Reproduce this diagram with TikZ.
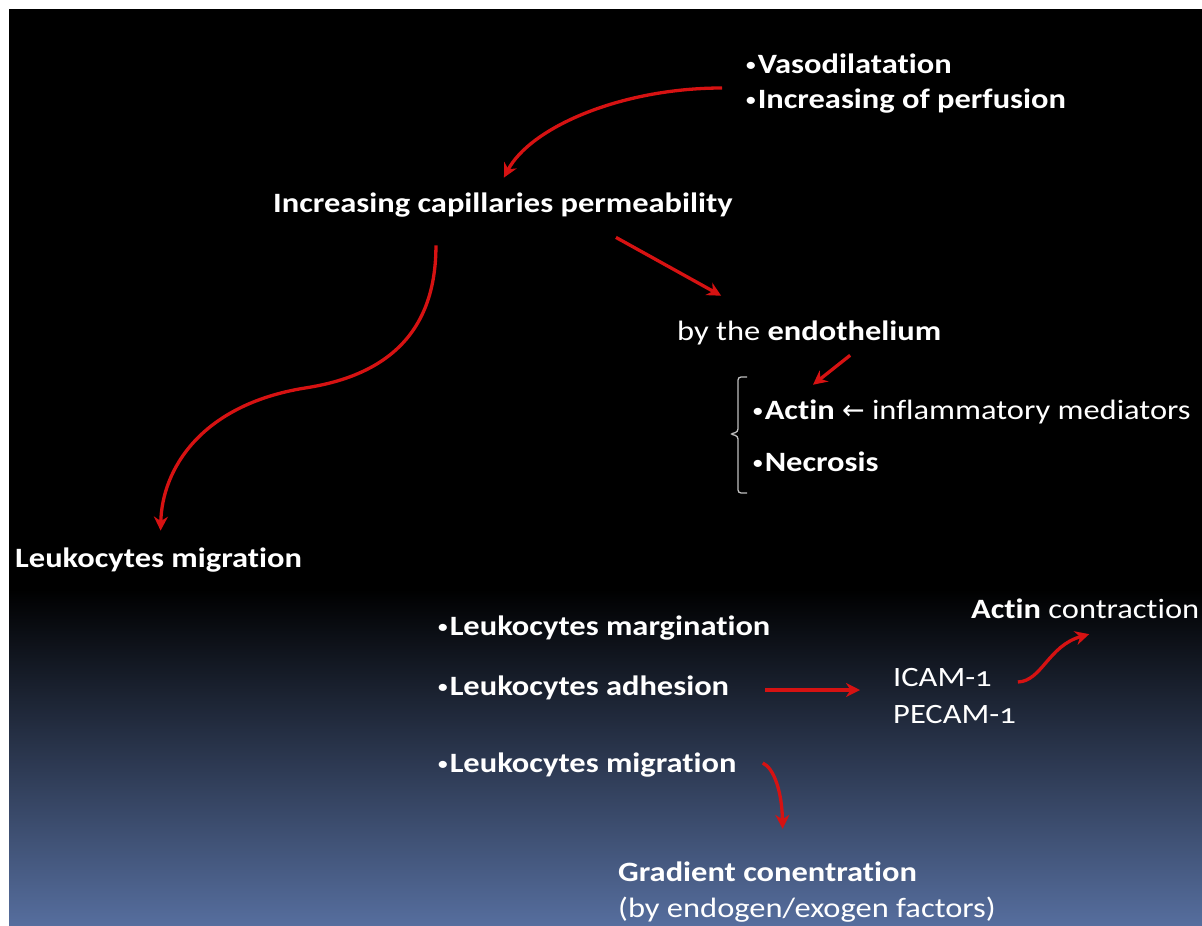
\documentclass[tikz,border=0pt]{standalone}
\usepackage{fontspec}
\setmainfont{Carlito}[Numbers=OldStyle, FakeStretch=1.16, Ligatures=NoCommon]
\newfontfamily\arrowfont{DejaVu Sans}
\usetikzlibrary{calc,arrows.meta}
\definecolor{arrowred}{RGB}{214,18,18}
\definecolor{slateblue}{RGB}{86,110,158}
\newcommand{\dotitem}{\raisebox{2pt}{\fontsize{20}{20}\selectfont•}\kern1pt}

\begin{document}
\begin{tikzpicture}[x=1pt, y=-1pt,
    lbl/.style={anchor=west, inner sep=0pt, text=white, font=\fontsize{28}{30}\selectfont},
    redarrow/.style={draw=arrowred, line width=3.3pt, -{Stealth[length=14pt,width=14pt]}}]
    % Background: white margin, black slide, blue fade at the bottom
    \fill[white] (0,0) rectangle (1202,926);
    \fill[black] (9,9) rectangle (1202,590);
    \shade[top color=black, bottom color=slateblue] (9,589) rectangle (1202,926);

    % Top part
    \node[lbl] (vaso) at (745,64)  {\dotitem\textbf{Vasodilatation}};
    \node[lbl] (perf) at (745,101) {\dotitem\textbf{Increasing of perfusion}};
    \node[lbl] (caps) at (273,205) {\textbf{Increasing capillaries permeability}};
    \node[lbl] (endo) at (677,333) {by the \textbf{endothelium}};
    \node[lbl] (actin) at (752,412) {\dotitem\textbf{Actin} {\arrowfont\fontsize{27}{28}\selectfont ←} inflammatory mediators};
    \node[lbl] (necro) at (752,462) {\dotitem\textbf{Necrosis}};
    \node[lbl] (migr) at (15,560) {\textbf{Leukocytes migration}};

    % Bracket round Actin / Necrosis
    \draw[white!75!black, line width=1.3pt, rounded corners=3pt]
        (747,377) -- (738,377) -- (738,432) -- (730,434) -- (738,436) -- (738,493) -- (747,493);

    % Bottom part
    \node[lbl] (marg) at (437,628) {\dotitem\textbf{Leukocytes margination}};
    \node[lbl] (adh)  at (437,688) {\dotitem\textbf{Leukocytes adhesion}};
    \node[lbl] (lmig) at (437,765) {\dotitem\textbf{Leukocytes migration}};
    \node[lbl] (contr) at (971,609) {\textbf{Actin} contraction};
    \node[lbl] (icam) at (893,678) {ICAM-1};
    \node[lbl] (pecam) at (893,715) {PECAM-1};
    \node[lbl] (grad) at (618,872) {\textbf{Gradient conentration}};
    \node[lbl] (fact) at (618,910) {(by endogen/exogen factors)};

    % Arrows
    \draw[redarrow] ($(perf.west)+(-23,-13)$) .. controls (620,88) and (530,128) .. ($(caps.north)+(1,-15)$);
    \draw[redarrow] ($(caps.south)+(113,20)$) -- ($(endo.north)+(-88,-25)$);
    \draw[redarrow] ($(caps.south)+(-67,28)$) .. controls (436,330) and (390,375) .. (305,388)
        .. controls (200,405) and (162,470) .. ($(migr.north)+(2,-17)$);
    \draw[redarrow] ($(endo.south)+(41,10)$) -- ($(actin.north west)+(61,-15)$);
    \draw[redarrow] ($(adh.east)+(36,2)$) -- ($(icam.west)+(-33,12)$);
    \draw[redarrow] ($(icam.east)+(26,4)$) .. controls (1042,681) and (1048,646) .. ($(contr.south)+(4,15)$);
    \draw[redarrow] ($(lmig.east)+(26,-2)$) .. controls (774,768) and (782,792) .. ($(grad.north)+(15,-33)$);
\end{tikzpicture}
\end{document}
